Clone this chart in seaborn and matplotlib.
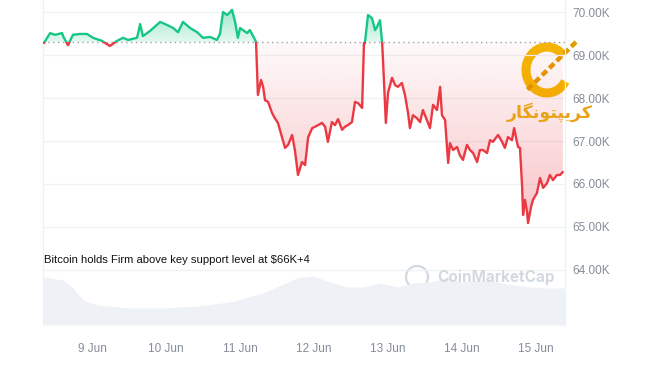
import matplotlib.pyplot as plt
import numpy as np
import pandas as pd
import seaborn as sns
from matplotlib.patches import Arc, Circle, Rectangle
from matplotlib.path import Path

# price in thousands of USD, time in hours since 8 Jun 00:00
hours = [
    8.4, 10.4, 12.0, 14.3, 14.6, 16.2, 17.8, 20.1, 22.4, 24.3, 27.2, 29.8, 32.1,
    34.1, 35.7, 38.6, 39.6, 40.5, 42.8, 46.1, 48.3, 50.3, 51.9, 53.5, 55.8, 58.1,
    60.0, 62.3, 64.5, 65.5, 66.5, 67.8, 68.8, 69.4, 70.4, 71.3, 72.0, 74.3, 75.2,
    76.9, 77.2, 77.5, 77.8, 78.8, 79.5, 80.1, 81.1, 82.4, 83.3, 84.3, 85.6, 86.6,
    87.6, 88.9, 89.8, 90.8, 92.1, 93.1, 94.1, 95.4, 96.3, 97.3, 98.6, 99.6, 100.5,
    101.8, 102.8, 103.8, 105.1, 106.0, 107.0, 108.3, 109.3, 110.3, 111.6, 112.2,
    112.5, 113.5, 114.8, 115.8, 116.4, 117.4, 118.1, 118.4, 119.3, 120.0, 121.3,
    122.3, 123.2, 124.5, 125.5, 126.5, 127.1, 128.1, 129.4, 130.4, 131.3, 132.6,
    133.6, 134.6, 135.9, 136.9, 137.5, 138.5, 139.5, 140.1, 141.1, 142.4, 143.3,
    144.3, 145.6, 146.6, 147.6, 148.9, 149.8, 150.8, 152.1, 153.1, 154.0, 155.7,
    157.0, 157.9, 158.9, 160.2, 160.9, 161.8, 162.2, 162.8, 163.5, 163.8, 164.4,
    165.1, 165.4, 166.4, 167.0, 168.3, 169.3, 170.3, 171.6, 172.5, 173.5, 174.8,
    175.8, 176.7,
]
price_k = [
    69.28, 69.51, 69.47, 69.51, 69.44, 69.23, 69.47, 69.49, 69.49, 69.40, 69.33,
    69.21, 69.33, 69.40, 69.35, 69.40, 69.72, 69.44, 69.56, 69.77, 69.70, 69.63,
    69.53, 69.77, 69.63, 69.53, 69.40, 69.42, 69.35, 69.49, 70.00, 69.93, 70.00,
    70.05, 69.77, 69.40, 69.63, 69.51, 69.58, 69.35, 69.30, 68.65, 68.07, 68.42,
    68.26, 67.95, 67.91, 67.65, 67.53, 67.42, 67.09, 66.84, 66.91, 67.14, 66.79,
    66.21, 66.51, 66.44, 67.09, 67.30, 67.33, 67.37, 67.42, 67.33, 66.98, 67.44,
    67.37, 67.51, 67.26, 67.33, 67.37, 67.44, 67.91, 67.88, 67.77, 69.28, 69.28,
    69.93, 69.86, 69.58, 69.65, 69.81, 69.28, 68.84, 67.42, 68.12, 68.47, 68.30,
    68.26, 68.35, 68.07, 67.65, 67.30, 67.60, 67.53, 67.44, 67.72, 67.49, 67.30,
    67.84, 67.72, 68.26, 67.60, 67.49, 66.49, 66.95, 66.79, 66.86, 66.67, 66.56,
    66.91, 66.79, 66.72, 66.51, 66.79, 66.79, 66.72, 67.02, 66.98, 67.14, 66.98,
    66.84, 67.09, 67.02, 67.30, 66.98, 66.86, 66.84, 65.93, 65.28, 65.63, 65.35,
    65.09, 65.47, 65.63, 65.79, 66.14, 65.91, 66.02, 66.21, 66.09, 66.21, 66.21,
    66.28,
]
open_price_k = 69.30

vol_hours = [
    8.1, 14.6, 17.8, 21.1, 25.6, 36.3, 47.0, 58.1, 68.8, 79.5, 90.5, 95.7, 101.2,
    106.7, 111.9, 117.4, 122.9, 128.1, 133.6, 139.1, 144.3, 149.8, 155.3, 160.5,
    166.0, 171.6, 177.4,
]
volume_b = [
    48, 45, 37, 25, 20, 17, 17, 19, 23, 32, 47, 49, 43, 38, 38, 42, 38, 42, 43, 47,
    43, 45, 43, 40, 38, 37, 37,
]

day_ticks = [24, 48, 72, 96, 120, 144, 168]
day_labels = ["9 Jun", "10 Jun", "11 Jun", "12 Jun", "13 Jun", "14 Jun", "15 Jun"]
price_ticks = [64, 65, 66, 67, 68, 69, 70]

GREEN = "#16c784"
RED = "#ea3943"
GREY_TXT = "#858c99"
GRID = "#eff2f5"
GOLD = "#f5b800"

sns.set_theme(style="white")
plt.rcParams["font.family"] = ["Liberation Sans", "DejaVu Sans"]

df = pd.DataFrame({"hours": hours, "price": price_k})
vol = pd.DataFrame({"hours": vol_hours, "volume": volume_b})

W, H = 650, 365
fig = plt.figure(figsize=(W / 100, H / 100), dpi=100)


def px_rect(x0, y0, x1, y1):
    return [x0 / W, 1 - y1 / H, (x1 - x0) / W, (y1 - y0) / H]


xmin, xmax = 8.1, 177.4
ymin, ymax = 62.72, 70.28

# volume strip under the price chart
ax_vol = fig.add_axes(px_rect(43, 270, 565, 325))
ax_vol.fill_between(vol["hours"], vol["volume"], color="#eef1f5", lw=0)
ax_vol.set_xlim(xmin, xmax)
ax_vol.set_ylim(0, 55)
ax_vol.set_yticks([])
ax_vol.set_xticks(day_ticks)
ax_vol.set_xticklabels(day_labels)
ax_vol.tick_params(axis="x", length=0, pad=13, labelsize=8.5, labelcolor=GREY_TXT)
ax_vol.set_facecolor("none")
for s in ax_vol.spines.values():
    s.set_visible(False)
ax_vol.set_zorder(1)

# price chart
ax = fig.add_axes(px_rect(43, 0, 565, 325))
ax.set_facecolor("none")
ax.set_zorder(2)

p = df["price"].to_numpy()
t = df["hours"].to_numpy()

# green fill above the open price
poly_up = ax.fill_between(t, p, open_price_k, where=p >= open_price_k,
                          interpolate=True, color="none", lw=0)
grad_up = np.zeros((256, 1, 4))
grad_up[..., :3] = (0x16 / 255, 0xc7 / 255, 0x84 / 255)
grad_up[:, 0, 3] = np.linspace(0.12, 0.42, 256)
im_up = ax.imshow(grad_up, extent=[xmin, xmax, open_price_k, 70.1],
                  origin="lower", aspect="auto", zorder=1)
im_up.set_clip_path(Path.make_compound_path(*poly_up.get_paths()), ax.transData)

# red fill below the open price
poly_dn = ax.fill_between(t, p, open_price_k, where=p <= open_price_k,
                          interpolate=True, color="none", lw=0)
grad_dn = np.zeros((256, 1, 4))
grad_dn[..., :3] = (0xea / 255, 0x39 / 255, 0x43 / 255)
grad_dn[:, 0, 3] = np.linspace(0.30, 0.03, 256)
im_dn = ax.imshow(grad_dn, extent=[xmin, xmax, 65.0, open_price_k],
                  origin="lower", aspect="auto", zorder=1)
im_dn.set_clip_path(Path.make_compound_path(*poly_dn.get_paths()), ax.transData)

# the line, drawn twice and clipped at the open price
sns.lineplot(data=df, x="hours", y="price", color=GREEN, lw=1.7, ax=ax, zorder=3)
line_up = ax.lines[-1]
sns.lineplot(data=df, x="hours", y="price", color=RED, lw=1.7, ax=ax, zorder=3)
line_dn = ax.lines[-1]
line_up.set_clip_path(Rectangle((xmin, open_price_k), xmax - xmin, ymax - open_price_k,
                                transform=ax.transData))
line_dn.set_clip_path(Rectangle((xmin, ymin), xmax - xmin, open_price_k - ymin,
                                transform=ax.transData))

ax.axhline(open_price_k, color="#9aa0a8", lw=1, ls=(0, (1, 2.5)), zorder=2)

ax.set_xlim(xmin, xmax)
ax.set_ylim(ymin, ymax)
ax.set_xticks([])
ax.set_xlabel("")
ax.set_ylabel("")
ax.yaxis.tick_right()
ax.set_yticks(price_ticks)
ax.set_yticklabels([f"{v:.2f}K" for v in price_ticks])
ax.tick_params(axis="y", length=0, pad=5, labelsize=8.5, labelcolor=GREY_TXT)
ax.grid(axis="y", color=GRID, lw=0.9)
ax.set_axisbelow(True)
for side in ["top", "bottom"]:
    ax.spines[side].set_visible(False)
for side in ["left", "right"]:
    ax.spines[side].set_color(GRID)
    ax.spines[side].set_linewidth(0.9)

# headline
fig.text(44 / W, 1 - 263 / H, "Bitcoin holds Firm above key support level at $66K+4",
         fontsize=8.1, color="#111111", va="baseline", ha="left")

# CoinMarketCap watermark
fig.add_artist(Circle((4.17, (H - 277) / 100), 0.11, transform=fig.dpi_scale_trans,
                      fill=False, ec="#d3d9e1", lw=1.6))
fig.text(437 / W, 1 - 277 / H, "CoinMarketCap", fontsize=11, color="#d3d9e1",
         fontweight="bold", va="center", ha="left", family=["Inter", "DejaVu Sans"])

# site logo (gold C with chain and persian name)
fig.add_artist(Arc((5.47, (H - 70) / 100), 0.42, 0.46, theta1=40, theta2=328,
                   transform=fig.dpi_scale_trans, color=GOLD, lw=6.5))
fig.add_artist(plt.Line2D([5.76, 5.25], [(H - 42) / 100, (H - 92) / 100],
                          transform=fig.dpi_scale_trans, color="#e39b00", lw=3.2,
                          ls=(0, (1.5, 0.8))))
persian = "\uFEAD\uFE8E\uFB95\uFEE7\uFEEE\uFE98\uFB59\uFBFE\uFEAE\uFB90"
fig.text(550 / W, 1 - 112 / H, persian, fontsize=12.5, color="#e8a317",
         fontweight="bold", ha="center", va="center", family=["DejaVu Sans"])

fig.savefig("out.png", dpi=100)
